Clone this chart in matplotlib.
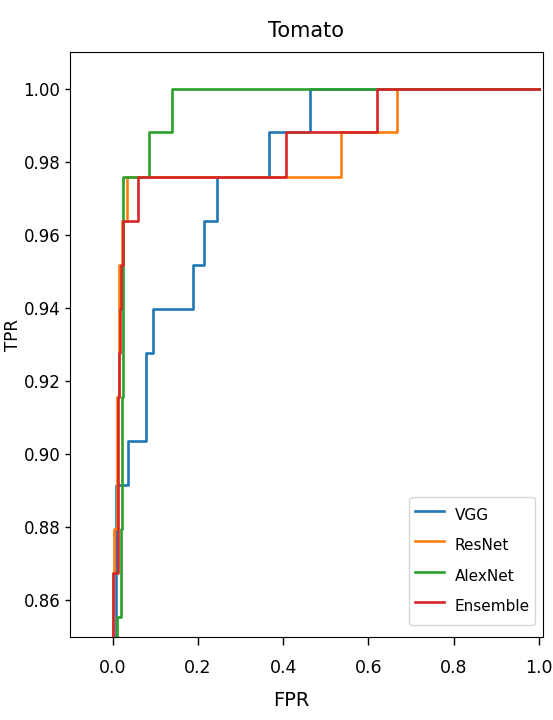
import matplotlib
matplotlib.use("Agg")
import matplotlib.pyplot as plt

# ---- data ----
vgg_fpr = [0.0, 0.0, 0.009, 0.009, 0.037, 0.037, 0.078, 0.078, 0.0955, 0.0955,
           0.188, 0.188, 0.214, 0.214, 0.244, 0.244, 0.366, 0.366, 0.464, 0.464, 1.0]
vgg_tpr = [0.0, 0.80, 0.80, 0.8916, 0.8916, 0.9036, 0.9036, 0.9277, 0.9277, 0.9398,
           0.9398, 0.9518, 0.9518, 0.9639, 0.9639, 0.9759, 0.9759, 0.9880, 0.9880, 1.0, 1.0]

resnet_fpr = [0.0, 0.0, 0.003, 0.003, 0.0094, 0.0094, 0.016, 0.016, 0.021, 0.021,
              0.033, 0.033, 0.536, 0.536, 0.667, 0.667, 1.0]
resnet_tpr = [0.0, 0.8675, 0.8675, 0.8795, 0.8795, 0.9157, 0.9157, 0.9518, 0.9518, 0.9639,
              0.9639, 0.9759, 0.9759, 0.9880, 0.9880, 1.0, 1.0]

alexnet_fpr = [0.0, 0.0, 0.0107, 0.0107, 0.019, 0.019, 0.021, 0.021, 0.0235, 0.0235,
               0.086, 0.086, 0.139, 0.139, 1.0]
alexnet_tpr = [0.0, 0.80, 0.80, 0.8554, 0.8554, 0.8795, 0.8795, 0.9157, 0.9157, 0.9759,
               0.9759, 0.9880, 0.9880, 1.0, 1.0]

ensemble_fpr = [0.0, 0.0, 0.012, 0.012, 0.0135, 0.0135, 0.0148, 0.0148, 0.0172, 0.0172,
                0.0196, 0.0196, 0.025, 0.025, 0.0588, 0.0588, 0.407, 0.407, 0.621, 0.621, 1.0]
ensemble_tpr = [0.0, 0.8675, 0.8675, 0.9036, 0.9036, 0.9157, 0.9157, 0.9277, 0.9277, 0.9398,
                0.9398, 0.9518, 0.9518, 0.9639, 0.9639, 0.9759, 0.9759, 0.9880, 0.9880, 1.0, 1.0]

labels = ["VGG", "ResNet", "AlexNet", "Ensemble"]
colors = ["#1f77b4", "#ff7f0e", "#2ca02c", "#d62728"]
x_ticks = [0.0, 0.2, 0.4, 0.6, 0.8, 1.0]
y_ticks = [0.86, 0.88, 0.90, 0.92, 0.94, 0.96, 0.98, 1.00]

plt.rcParams['font.family'] = ['DejaVu Sans']

W, H = 553, 720
fig = plt.figure(figsize=(W / 100, H / 100), dpi=100)
L, R, T, B = 70, 543, 52, 637
ax = fig.add_axes([L / W, 1 - B / H, (R - L) / W, (B - T) / H])

series = [(vgg_fpr, vgg_tpr), (resnet_fpr, resnet_tpr),
          (alexnet_fpr, alexnet_tpr), (ensemble_fpr, ensemble_tpr)]
for (fx, ty), lab, col in zip(series, labels, colors):
    ax.plot(fx, ty, color=col, lw=1.9, label=lab)

ax.set_xlim(-0.1, 1.01)
ax.set_ylim(0.85, 1.01)
ax.set_xticks(x_ticks)
ax.set_xticklabels([f"{v:.1f}" for v in x_ticks], fontsize=12.5)
ax.set_yticks(y_ticks)
ax.set_yticklabels([f"{v:.2f}" for v in y_ticks], fontsize=12)
ax.tick_params(axis='x', length=5.5, width=1, pad=10)
ax.tick_params(axis='y', length=3.5, width=1, pad=3.5)

ax.set_title("Tomato", fontsize=15, pad=11)
ax.set_xlabel("FPR", fontsize=14)
ax.xaxis.set_label_coords((291 - L) / (R - L), (B - 691) / (B - T))
ax.set_ylabel("TPR", fontsize=12)
ax.yaxis.set_label_coords((22 - L) / (R - L), (B - 335) / (B - T))

ax.legend(loc="lower right",
          bbox_to_anchor=((535 - L) / (R - L), (B - 625) / (B - T)),
          borderaxespad=0, fontsize=11, handlelength=1.9, handletextpad=0.7,
          handleheight=2.3, labelspacing=0.25, borderpad=0.35)

fig.savefig("out.png", dpi=100)
